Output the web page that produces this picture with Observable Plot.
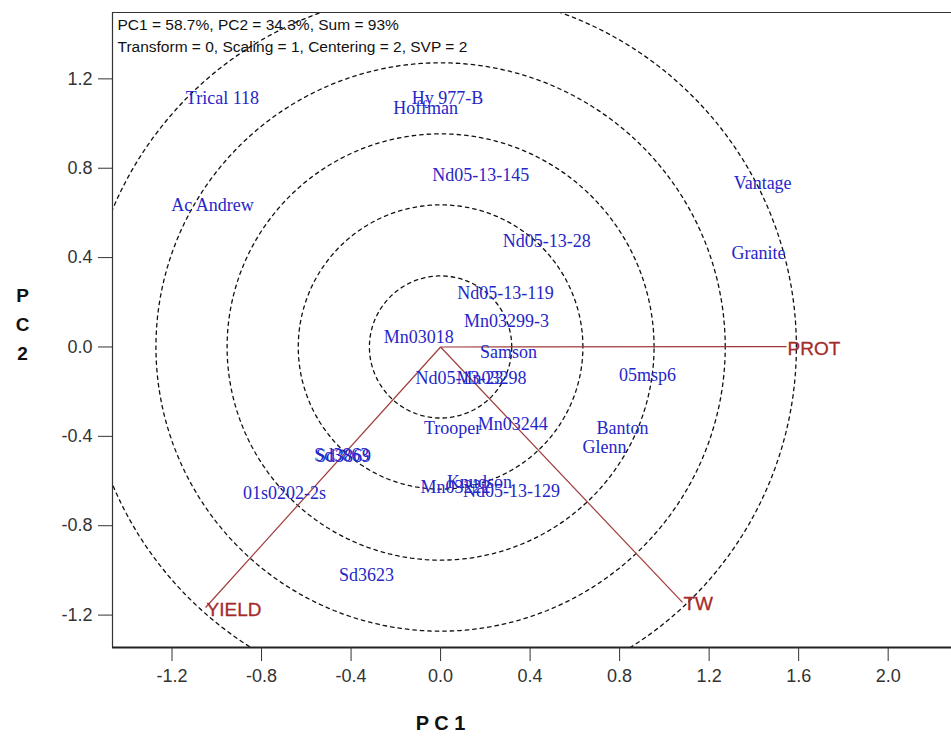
<!DOCTYPE html>
<html><head><meta charset="utf-8">
<script src="https://cdn.jsdelivr.net/npm/d3@7"></script>
<script src="https://cdn.jsdelivr.net/npm/@observablehq/plot@0.6"></script>
<style>html,body{margin:0;padding:0;background:#fff;}</style>
</head><body><div id="chart"></div>
<script>
// Genotype scores (PC1, PC2)
const genotypes = ["Trical 118","Hy 977-B","Hoffman","Nd05-13-145","Vantage","Ac Andrew","Nd05-13-28","Granite","Nd05-13-119","Mn03299-3","Mn03018","Samson","Nd05-13-23","Mn03298","Trooper","Mn03244","05msp6","Banton","Glenn","Nd05-13-129","Knudson","Mn03222","01s0202-2s","Sd3623","Sd3863","Sd3869"];
const gx = [-0.975, 0.031, -0.067, 0.179, 1.439, -1.019, 0.474, 1.421, 0.290, 0.295, -0.098, 0.304, 0.085, 0.228, 0.054, 0.322, 0.925, 0.813, 0.733, 0.317, 0.174, 0.067, -0.697, -0.331, -0.442, -0.434];
const gy = [1.112, 1.112, 1.067, 0.767, 0.731, 0.633, 0.472, 0.418, 0.239, 0.114, 0.043, -0.025, -0.141, -0.141, -0.365, -0.347, -0.127, -0.365, -0.450, -0.647, -0.606, -0.627, -0.656, -1.022, -0.483, -0.487];
// Trait vectors
const traits = ["PROT","TW","YIELD"];
const tx = [1.546, 1.081, -1.050];
const ty = [0.002, -1.143, -1.166];
// Concentric circle radii
const radii = [0.318, 0.636, 0.954, 1.272, 1.590];
const xTicks = [-1.2,-0.8,-0.4,0.0,0.4,0.8,1.2,1.6,2.0];
const yTicks = [-1.2,-0.8,-0.4,0.0,0.4,0.8,1.2];
const headerLines = ["PC1 = 58.7%, PC2 = 34.3%, Sum = 93%", "Transform = 0, Scaling = 1, Centering = 2, SVP = 2"];
const xLabel = "P C 1";
const yLabel = "P\nC\n2";
const xDomain = [-1.466, 2.283];
const yDomain = [-1.345, 1.497];

const genoRows = genotypes.map((n,i)=>({name:n, x:gx[i], y:gy[i]}));
const traitRows = traits.map((n,i)=>({name:n, x:tx[i], y:ty[i]}));
const circlePts = [];
radii.forEach(r=>{
  for(let a=0;a<=360;a+=2){
    const t=a*Math.PI/180;
    circlePts.push({r, x:r*Math.cos(t), y:r*Math.sin(t)});
  }
});

const fmt = d => d.toFixed(1);

const chart = Plot.plot({
  width: 951, height: 736,
  marginLeft: 112, marginRight: 0, marginTop: 12, marginBottom: 89,
  x: {domain: xDomain},
  y: {domain: yDomain},
  style: {background: "white", fontFamily: "'Liberation Sans', Arial, sans-serif"},
  marks: [
    Plot.line(circlePts, {x:"x", y:"y", z:"r", stroke:"#111", strokeWidth:1.3, strokeDasharray:"3.5,4", clip:true}),
    Plot.link(traitRows, {x1:()=>0, y1:()=>0, x2:"x", y2:"y", stroke:"#a03a3a", strokeWidth:1.2}),
    Plot.text(genoRows, {x:"x", y:"y", text:"name", fill:"#2626c8", fontFamily:"'Liberation Serif', 'Times New Roman', serif", fontSize:18}),
    Plot.text(traitRows, {x:"x", y:"y", text:"name", textAnchor:"start", dx:1, dy:2, fill:"#a52a2a", fontSize:19, stroke:"#a52a2a", strokeWidth:0.3}),
    Plot.ruleX([xDomain[0]], {stroke:"#333", strokeWidth:1.2}),
    Plot.ruleY([yDomain[1]], {stroke:"#333", strokeWidth:1.2}),
    Plot.ruleY([yDomain[0]], {stroke:"#222", strokeWidth:2}),
    Plot.axisX({ticks:xTicks, tickFormat:fmt, tickSize:14, tickPadding:8, fontSize:18, anchor:"bottom", label:null, color:"#333"}),
    Plot.axisY({ticks:yTicks, tickFormat:fmt, tickSize:14, tickPadding:6, fontSize:18, anchor:"left", label:null, color:"#333"}),
    Plot.text([headerLines.join("\n")], {frameAnchor:"top-left", text:d=>d, dx:5, dy:2, lineAnchor:"top", lineHeight:1.4, fontSize:15.5, textAnchor:"start", fill:"#111"}),
    Plot.text([0], {x:d=>d, y:()=>yDomain[0], text:()=>xLabel, dy:76, fontSize:20, fontWeight:"bold", fill:"#111"}),
    Plot.text([0.114], {x:()=>xDomain[0], y:d=>d, text:()=>yLabel, dx:-90, lineHeight:1.53, fontSize:19, fontWeight:"bold", fill:"#111"})
  ]
});
document.getElementById("chart").appendChild(chart);
</script>
</body></html>
